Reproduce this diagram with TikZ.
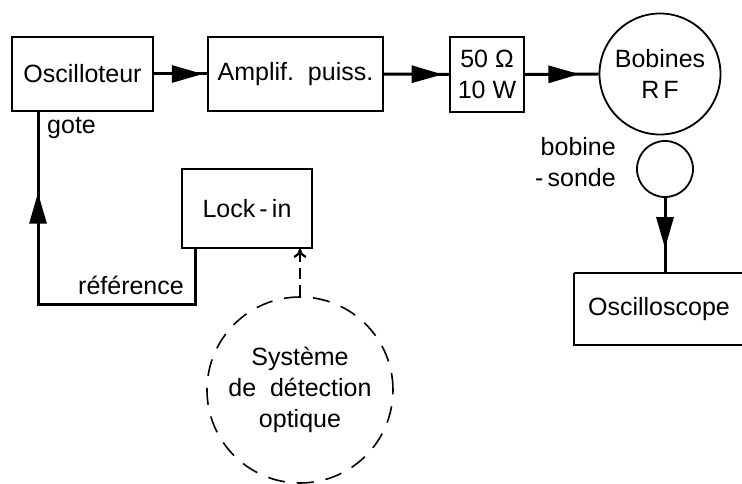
\documentclass[tikz,border=0pt]{standalone}
\usepackage{fontspec}
\setmainfont{Liberation Sans}
\usetikzlibrary{arrows.meta,decorations.markings}
\begin{document}
\begin{tikzpicture}[x=1pt,y=-1pt,
  every node/.style={font=\fontsize{25}{31}\selectfont, inner sep=0pt},
  blk/.style={draw, line width=1.8pt},
  circ/.style={draw, circle, line width=1.8pt},
  conn/.style={line width=3pt},
  midarrow/.style={postaction={decorate},decoration={markings,
     mark=at position #1 with {\arrow{Triangle[length=31pt,width=17pt]}}}},
]
\useasboundingbox (0,0) rectangle (742,484);
% boxes
\node[blk, minimum width=141pt, minimum height=74pt] (osc) at (82.5,74) {Oscilloteur};
\node[blk, minimum width=175pt, minimum height=74pt] (amp) at (295.5,74) {Amplif.\ \ puiss.};
\node[blk, minimum width=74pt, minimum height=75pt, align=center] (res) at (487,74.5) {50 Ω\\10 W};
\node[circ, minimum size=121pt, align=center] (bob) at (660,74) {Bobines\\R\,F};
\node[circ, minimum size=56pt] (sonde) at (665,169) {};
\node[blk, minimum width=130pt, minimum height=79pt] (lock) at (247,208.5) {Lock\,-\,in};
\node[draw, circle, line width=1.6pt, dash pattern=on 17pt off 12pt, minimum size=186pt, align=center] (det) at (300,390)
  {Système\\de\ \ détection\\optique};
\draw[blk] (574,273) -- (750,273) (574,273) -- (574,345) -- (750,345);
\coordinate (oscin) at (665,273);
\node (osco) at (659,309) {Oscilloscope};
% labels
\node[anchor=west] (gote) at (47,128) {gote};
\node[anchor=east] (ref) at (184,285) {référence};
\node[anchor=east, align=right] (bs) at (616,162) {bobine\\-\,sonde};
% connectors
\draw[conn, midarrow=0.92] (osc.east) -- (amp.west);
\draw[conn, midarrow=0.9] (amp.east) -- (res.west);
\draw[conn, midarrow=0.74] (res.east) -- (bob.west);
\draw[conn, midarrow=0.67] (sonde.south) -- (oscin);
\coordinate (c1) at (195,304);
\coordinate (c2) at (38,304);
\draw[conn, midarrow=0.8] (lock.south west -| c1) -- (c1) -- (c2) -- (osc.south west -| c2);
\draw[line width=2.2pt, dash pattern=on 11pt off 6pt, -{To[length=9pt,width=13pt,line width=2.2pt]}] (det.north) -- (lock.south -| det.north);
\end{tikzpicture}
\end{document}
